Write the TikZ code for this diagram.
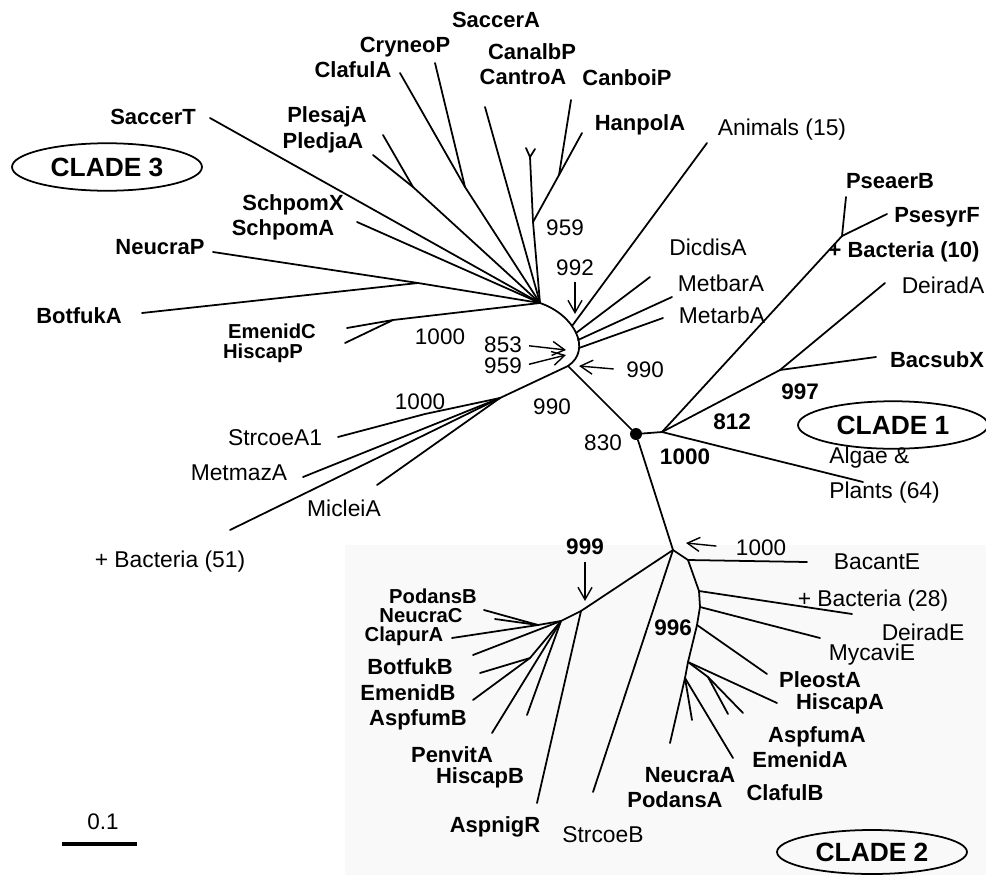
\documentclass[tikz,border=0pt]{standalone}
\usepackage{fontspec}
\setmainfont{Liberation Sans}
\usetikzlibrary{arrows.meta, shapes.geometric}

\begin{document}
\begin{tikzpicture}[
    x=0.02cm, y=-0.02cm,
    branch/.style={line width=1pt, line cap=round, line join=round},
    fungus/.style={font=\fontsize{12.5}{14}\selectfont\bfseries, inner sep=0pt},
    tight/.style={fungus, font=\fontsize{11.5}{13}\selectfont\bfseries},
    taxon/.style={font=\fontsize{13}{15}\selectfont, inner sep=0pt},
    boot/.style={font=\fontsize{12.8}{15}\selectfont, inner sep=0pt},
    bootb/.style={font=\fontsize{12.8}{15}\selectfont\bfseries, inner sep=0pt},
    clade/.style={ellipse, draw, line width=1pt, minimum width=3.8cm, minimum height=0.95cm, inner sep=0pt, font=\fontsize{15}{18}\selectfont\bfseries},
    arrow/.style={-{Straight Barb[length=7pt,width=8pt]}, line width=0.8pt}
]
\useasboundingbox (0,0) rectangle (986,875);
\fill[black!2.5] (345,545) rectangle (986,875);

% Clade 3 hub
\coordinate (hubT) at (540,303);
\coordinate (hubB) at (568,366);
\coordinate (hubA) at (572,326);
\coordinate (hubD) at (576,333);
\coordinate (hubM) at (578,340);
\coordinate (hubN) at (579,348);
\draw[branch] (hubT) .. controls (575,315) and (592,350) .. (hubB);

% Clade 3 tips
\coordinate (eSaccerT) at (210,118);
\coordinate (nNB) at (418,283);
\coordinate (eNeucraP) at (213,252);
\coordinate (eBotfukA) at (142,313);
\coordinate (eSchpom) at (357,222);
\coordinate (nEH) at (393,320);
\coordinate (eEmenidC) at (347,328);
\coordinate (eHiscapP) at (345,343);
\coordinate (nPP) at (413,187);
\coordinate (ePlesajA) at (383,135);
\coordinate (ePledjaA) at (373,155);
\coordinate (nCC) at (465,187);
\coordinate (eClafulA) at (400,73);
\coordinate (eCryneoP) at (435,63);
\coordinate (eSaccerA) at (485,107);
\coordinate (n959) at (533,222);
\coordinate (nCan) at (530,157);
\coordinate (eCanalbP) at (526,148);
\coordinate (eCantroA) at (535,149);
\coordinate (nCH) at (559,175);
\coordinate (eCanboiP) at (571,100);
\coordinate (eHanpolA) at (582,133);
\coordinate (eAnimals) at (707,143);
\coordinate (eDicdisA) at (650,277);
\coordinate (eMetbarA) at (672,297);
\coordinate (eMetarbA) at (663,318);
\coordinate (m990) at (500,398);
\coordinate (n1000) at (425,414);
\coordinate (eStrcoeA1) at (338,437);
\coordinate (eMetmazA) at (303,477);
\coordinate (eMicleiA) at (377,485);
\coordinate (eBact51) at (230,530);

\draw[branch] (hubT) -- (eSaccerT);
\draw[branch] (hubT) -- (nNB) -- (eNeucraP);
\draw[branch] (nNB) -- (eBotfukA);
\draw[branch] (hubT) -- (eSchpom);
\draw[branch] (hubT) -- (nEH) -- (eEmenidC);
\draw[branch] (nEH) -- (eHiscapP);
\draw[branch] (hubT) -- (nPP) -- (ePlesajA);
\draw[branch] (nPP) -- (ePledjaA);
\draw[branch] (hubT) -- (nCC) -- (eClafulA);
\draw[branch] (nCC) -- (eCryneoP);
\draw[branch] (hubT) -- (eSaccerA);
\draw[branch] (hubT) -- (n959) -- (nCan) -- (eCanalbP);
\draw[branch] (nCan) -- (eCantroA);
\draw[branch] (n959) -- (nCH) -- (eHanpolA);
\draw[branch] (nCH) -- (eCanboiP);
\draw[branch] (hubA) -- (eAnimals);
\draw[branch] (hubD) -- (eDicdisA);
\draw[branch] (hubM) -- (eMetbarA);
\draw[branch] (hubN) -- (eMetarbA);
\draw[branch] (hubB) -- (m990) -- (n1000) -- (eStrcoeA1);
\draw[branch] (m990) -- (eMetmazA);
\draw[branch] (m990) -- (eMicleiA);
\draw[branch] (m990) -- (eBact51);

% Root and clade 1
\node[circle, fill, inner sep=0pt, minimum size=0.24cm] (root) at (636,434) {};
\coordinate (c1) at (662,432);
\coordinate (nPs) at (842,236);
\coordinate (ePseaerB) at (846,197);
\coordinate (ePsesyrF) at (887,214);
\coordinate (n997) at (780,370);
\coordinate (eDeiradA) at (885,283);
\coordinate (eBacsubX) at (876,357);
\coordinate (eAlgae) at (863,482);

\draw[branch] (hubB) -- (root);
\draw[branch] (root) -- (c1) -- (nPs) -- (ePseaerB);
\draw[branch] (nPs) -- (ePsesyrF);
\draw[branch] (c1) -- (n997) -- (eDeiradA);
\draw[branch] (n997) -- (eBacsubX);
\draw[branch] (c1) -- (eAlgae);

% Clade 2
\coordinate (c2) at (673,550);
\coordinate (r1) at (688,560);
\coordinate (r2) at (699,591);
\coordinate (r3) at (700,607);
\coordinate (r4) at (697,625);
\coordinate (r5) at (688,662);
\coordinate (r6) at (685,678);
\coordinate (f1) at (708,677);
\coordinate (eBacantE) at (807,562);
\coordinate (eBact28) at (852,614);
\coordinate (eDeiradE) at (820,638);
\coordinate (ePleostA) at (767,674);
\coordinate (eHiscapA) at (777,703);
\coordinate (eAspfumA) at (743,713);
\coordinate (eEmenidA) at (728,714);
\coordinate (eClafulB) at (733,758);
\coordinate (eNeucraA) at (670,743);
\coordinate (ePodansA) at (692,720);
\coordinate (n999) at (581,611);
\coordinate (nPod) at (561,621);
\coordinate (gP) at (538,625);
\coordinate (gE) at (530,658);
\coordinate (ePodansB) at (484,610);
\coordinate (eNeucraC) at (495,619);
\coordinate (eClapurA) at (452,638);
\coordinate (eBotfukB) at (473,655);
\coordinate (eEmenidB1) at (480,673);
\coordinate (eEmenidB2) at (473,700);
\coordinate (eAspfumB) at (492,733);
\coordinate (ePenvitA) at (527,715);
\coordinate (eAspnigR) at (537,803);
\coordinate (eStrcoeB) at (593,792);

\draw[branch] (root) -- (c2) -- (r1) -- (r2) -- (r3) -- (r4) -- (r5) -- (r6);
\draw[branch] (r1) -- (eBacantE);
\draw[branch] (r2) -- (eBact28);
\draw[branch] (r3) -- (eDeiradE);
\draw[branch] (r4) -- (ePleostA);
\draw[branch] (r5) -- (eHiscapA);
\draw[branch] (r5) -- (f1) -- (eAspfumA);
\draw[branch] (f1) -- (eEmenidA);
\draw[branch] (r6) -- (eClafulB);
\draw[branch] (r6) -- (eNeucraA);
\draw[branch] (r6) -- (ePodansA);
\draw[branch] (c2) -- (n999) -- (nPod) -- (gP) -- (ePodansB);
\draw[branch] (gP) -- (eNeucraC);
\draw[branch] (gP) -- (eClapurA);
\draw[branch] (nPod) -- (eBotfukB);
\draw[branch] (nPod) -- (gE) -- (eEmenidB1);
\draw[branch] (gE) -- (eEmenidB2);
\draw[branch] (nPod) -- (eAspfumB);
\draw[branch] (nPod) -- (ePenvitA);
\draw[branch] (n999) -- (eAspnigR);
\draw[branch] (c2) -- (eStrcoeB);

% Taxon labels, clade 3
\node[fungus] (SaccerT) at (153,117) {SaccerT};
\node[clade] (clade3) at (107,167) {CLADE 3};
\node[fungus] (PlesajA) at (327,117) {PlesajA};
\node[fungus] (PledjaA) at (323,143) {PledjaA};
\node[fungus] (ClafulA) at (353,70) {ClafulA};
\node[fungus] (CryneoP) at (405,47) {CryneoP};
\node[fungus] (SaccerA) at (496,20) {SaccerA};
\node[fungus] (CanalbP) at (532,52) {CanalbP};
\node[fungus] (CantroA) at (523,77) {CantroA};
\node[fungus] (CanboiP) at (627,78) {CanboiP};
\node[fungus] (HanpolA) at (640,125) {HanpolA};
\node[taxon] (Animals) at (782,130) {Animals (15)};
\node[fungus] (SchpomX) at (293,205) {SchpomX};
\node[fungus] (SchpomA) at (283,230) {SchpomA};
\node[fungus] (NeucraP) at (160,247) {NeucraP};
\node[fungus] (BotfukA) at (79,316) {BotfukA};
\node[tight] (EmenidC) at (272,331) {EmenidC};
\node[tight] (HiscapP) at (263,353) {HiscapP};
\node[taxon] (DicdisA) at (708,247) {DicdisA};
\node[taxon] (MetbarA) at (721,283) {MetbarA};
\node[taxon] (MetarbA) at (722,315) {MetarbA};
\node[taxon] (StrcoeA1) at (275,438) {StrcoeA1};
\node[taxon] (MetmazA) at (239,473) {MetmazA};
\node[taxon] (MicleiA) at (344,508) {MicleiA};
\node[taxon] (Bact51) at (170,562) {+ Bacteria (51)};

% Taxon labels, clade 1
\node[fungus] (PseaerB) at (890,181) {PseaerB};
\node[fungus] (PsesyrF) at (937,217) {PsesyrF};
\node[fungus] (Bact10) at (904,252) {+ Bacteria (10)};
\node[taxon] (DeiradA) at (943,285) {DeiradA};
\node[fungus] (BacsubX) at (937,360) {BacsubX};
\node[clade] (clade1) at (893,425) {CLADE 1};
\node[taxon, align=left, anchor=west, font=\fontsize{13}{20}\selectfont] (Algae) at (829,475) {Algae \&\\Plants (64)};

% Taxon labels, clade 2
\node[taxon] (BacantE) at (877,562) {BacantE};
\node[taxon] (Bact28) at (873,601) {+ Bacteria (28)};
\node[taxon] (DeiradE) at (923,632) {DeiradE};
\node[taxon] (MycaviE) at (872,655) {MycaviE};
\node[fungus] (PleostA) at (820,680) {PleostA};
\node[fungus] (HiscapA) at (840,704) {HiscapA};
\node[fungus] (AspfumA) at (817,737) {AspfumA};
\node[fungus] (EmenidA) at (800,760) {EmenidA};
\node[fungus] (ClafulB) at (785,793) {ClafulB};
\node[fungus] (NeucraA) at (690,775) {NeucraA};
\node[fungus] (PodansA) at (675,800) {PodansA};
\node[clade, minimum height=0.88cm] (clade2) at (872,852) {CLADE 2};
\node[tight] (PodansB) at (433,596) {PodansB};
\node[tight] (NeucraC) at (421,616) {NeucraC};
\node[tight] (ClapurA) at (404,636) {ClapurA};
\node[fungus] (BotfukB) at (410,667) {BotfukB};
\node[fungus] (EmenidB) at (408,693) {EmenidB};
\node[fungus] (AspfumB) at (418,720) {AspfumB};
\node[fungus] (PenvitA) at (452,755) {PenvitA};
\node[fungus] (HiscapB) at (480,778) {HiscapB};
\node[fungus] (AspnigR) at (495,827) {AspnigR};
\node[taxon] (StrcoeB) at (603,835) {StrcoeB};

% Bootstrap values
\node[boot] (b1000a) at (440,337) {1000};
\node[boot] (b853) at (503,345) {853};
\node[boot] (b959a) at (503,366) {959};
\node[boot] (b959b) at (565,228) {959};
\node[boot] (b992) at (575,268) {992};
\node[boot] (b990a) at (645,370) {990};
\node[boot] (b990b) at (552,407) {990};
\node[boot] (b1000b) at (420,402) {1000};
\node[boot] (b830) at (603,443) {830};
\node[bootb] (b812) at (732,422) {812};
\node[bootb] (b997) at (800,392) {997};
\node[bootb] (b1000c) at (685,457) {1000};
\node[bootb] (b999) at (585,547) {999};
\node[boot] (b1000d) at (761,548) {1000};
\node[bootb] (b996) at (673,628) {996};

% Pointers
\coordinate (a992) at (575,314);
\coordinate (a853) at (566,350);
\coordinate (a959) at (566,355);
\coordinate (a990) at (579,366);
\coordinate (a999) at (585,601);
\coordinate (a1000) at (686,543);
\draw[arrow, shorten <=3pt] (b992.south) -- (a992);
\draw[arrow, shorten <=4pt] (b853.east) -- (a853);
\draw[arrow, shorten <=4pt] (b959a.east) -- (a959);
\draw[arrow, shorten <=7pt] (b990a.west) -- (a990);
\draw[arrow, shorten <=4pt] (b999.south) -- (a999);
\draw[arrow, shorten <=11pt] (b1000d.west) -- (a1000);

% Scale bar
\node[boot] (scale) at (103,822) {0.1};
\coordinate (sbL) at (62,844);
\coordinate (sbR) at (137,844);
\draw[line width=2pt] (sbL) -- (sbR);
\end{tikzpicture}
\end{document}
